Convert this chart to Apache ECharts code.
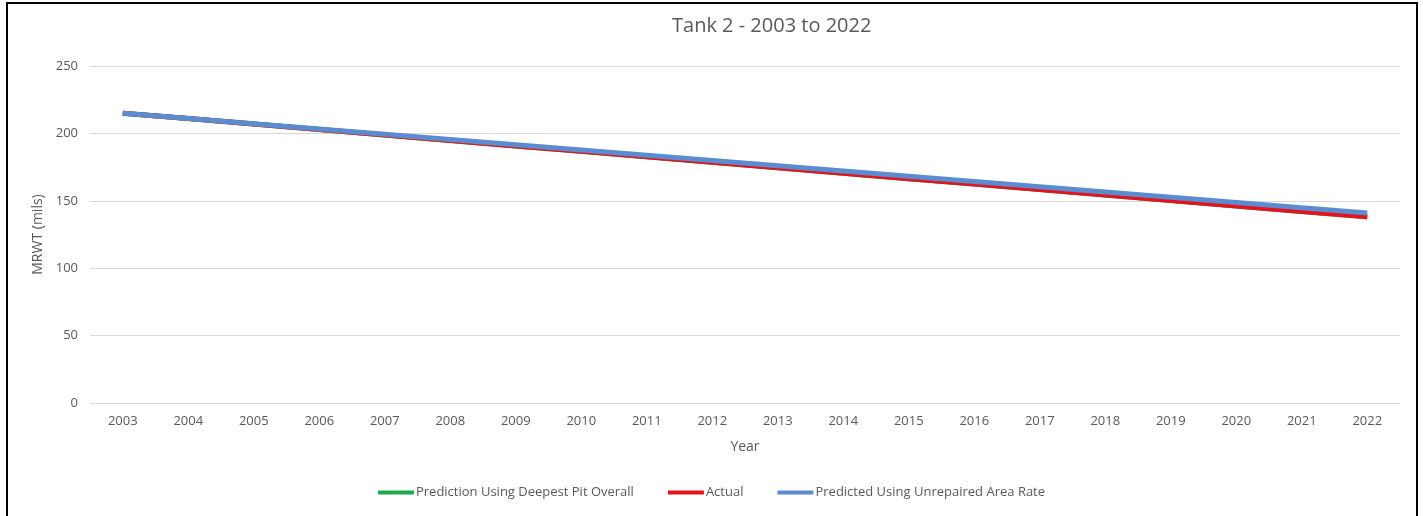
<!DOCTYPE html>
<html>
<head>
<meta charset="utf-8">
<script src="https://cdn.jsdelivr.net/npm/echarts@6/dist/echarts.min.js"></script>
<style>
  html, body { margin: 0; padding: 0; background: #fff; }
  #chart { width: 1423px; height: 516px; }
</style>
</head>
<body>
<div id="chart"></div>
<script>
// Years on the category axis
const years = ['2003','2004','2005','2006','2007','2008','2009','2010','2011','2012',
               '2013','2014','2015','2016','2017','2018','2019','2020','2021','2022'];

// Minimum remaining wall thickness (mils)
const deepestPit = [215, 211.0, 206.9, 202.9, 198.8, 194.8, 190.7, 186.7, 182.6, 178.6,
                    174.5, 170.5, 166.4, 162.4, 158.3, 154.3, 150.2, 146.2, 142.1, 138.1];
const actual = [215, 211.0, 206.9, 202.9, 198.8, 194.8, 190.7, 186.7, 182.6, 178.6,
                174.5, 170.5, 166.4, 162.4, 158.3, 154.3, 150.2, 146.2, 142.1, 138.1];
const unrepaired = [215, 211.1, 207.2, 203.3, 199.4, 195.5, 191.6, 187.7, 183.8, 179.9,
                    176.0, 172.1, 168.2, 164.3, 160.4, 156.5, 152.6, 148.7, 144.8, 141.0];

const seriesNames = ['Prediction Using Deepest Pit Overall', 'Actual', 'Predicted Using Unrepaired Area Rate'];

const FONT = '"Open Sans", "Noto Sans", sans-serif';
const TXT = '#595959';

const chart = echarts.init(document.getElementById('chart'));
chart.setOption({
  animation: false,
  backgroundColor: '#fff',
  title: {
    text: 'Tank 2 - 2003 to 2022',
    left: 672,
    top: 16,
    padding: 0,
    textStyle: { fontFamily: FONT, fontSize: 20, fontWeight: 'normal', color: TXT }
  },
  graphic: [{
    type: 'rect',
    shape: { x: 7, y: 3, width: 1410, height: 540 },
    style: { fill: 'none', stroke: '#000', lineWidth: 2 },
    silent: true
  }],
  legend: {
    top: 481,
    left: 'center',
    itemWidth: 36,
    itemHeight: 4,
    itemGap: 34,
    icon: 'rect',
    textStyle: { fontFamily: FONT, fontSize: 13, color: TXT, padding: [0, 0, 0, -3] },
    data: seriesNames
  },
  grid: { left: 90, right: 23, top: 66, bottom: 113, containLabel: false },
  xAxis: {
    type: 'category',
    data: years,
    boundaryGap: true,
    name: 'Year',
    nameLocation: 'middle',
    nameGap: 37,
    nameTextStyle: { fontFamily: FONT, fontSize: 14, color: TXT },
    axisLine: { show: false },
    axisTick: { show: false },
    axisLabel: { fontFamily: FONT, fontSize: 13, color: TXT, margin: 12 }
  },
  yAxis: {
    type: 'value',
    min: 0,
    max: 250,
    interval: 50,
    name: 'MRWT (mils)',
    nameLocation: 'middle',
    nameGap: 43,
    nameTextStyle: { fontFamily: FONT, fontSize: 14, color: TXT },
    axisLine: { show: false },
    axisTick: { show: false },
    axisLabel: { fontFamily: FONT, fontSize: 13, color: TXT, margin: 12 },
    splitLine: { lineStyle: { color: '#d9d9d9', width: 1 } }
  },
  series: [
    {
      name: seriesNames[0], type: 'line', data: deepestPit,
      symbol: 'none', color: '#1ea84b',
      lineStyle: { width: 5, color: '#1ea84b' }
    },
    {
      name: seriesNames[1], type: 'line', data: actual,
      symbol: 'none', color: '#e3141b',
      lineStyle: { width: 5, color: '#e3141b' }
    },
    {
      name: seriesNames[2], type: 'line', data: unrepaired,
      symbol: 'none', color: '#5b8ccf',
      lineStyle: { width: 5, color: '#5b8ccf' }
    }
  ]
});
</script>
</body>
</html>
